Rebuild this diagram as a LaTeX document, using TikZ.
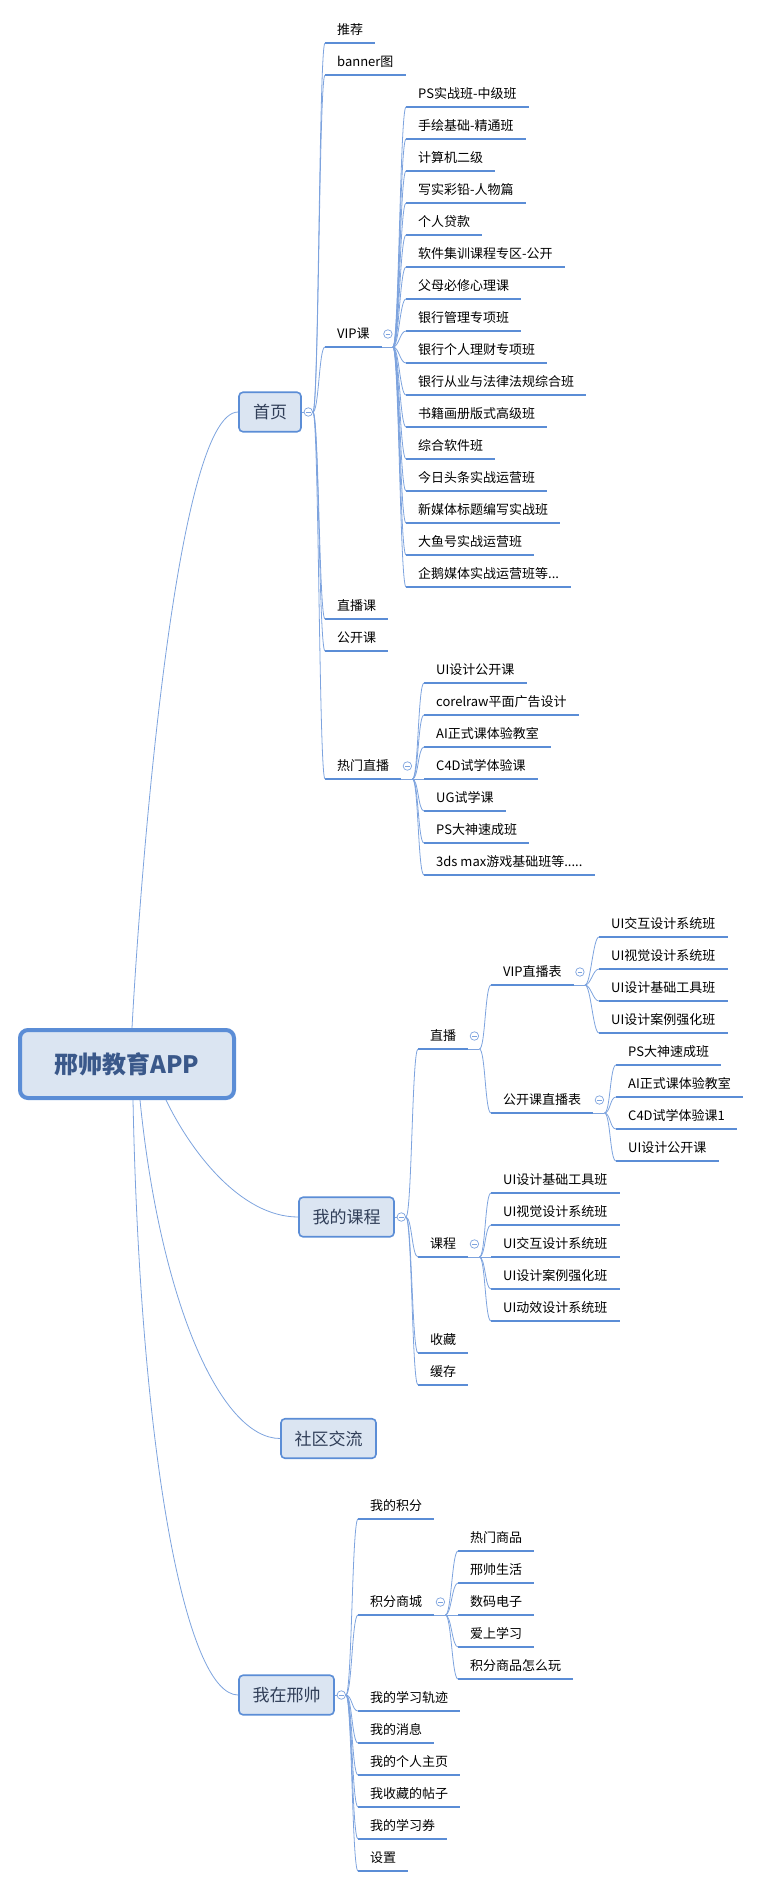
\documentclass[tikz,border=0pt]{standalone}
\usepackage{fontspec}
\setmainfont{Noto Sans CJK SC}
\usepackage{tikz}
\usetikzlibrary{positioning, calc}

\definecolor{ulblue}{RGB}{91,141,214}
\definecolor{lnblue}{RGB}{125,163,222}
\definecolor{boxfill}{RGB}{219,229,242}
\definecolor{topictxt}{RGB}{48,62,88}
\definecolor{roottxt}{RGB}{58,88,138}

\begin{document}
\begin{tikzpicture}[x=1pt, y=-1pt,
    conn/.style={draw=lnblue, line width=0.8pt},
    kid/.style={to path={.. controls +(6,0) and +(-6,0) .. (\tikztotarget)}},
    uline/.style={draw=ulblue, line width=2.5pt},
    leaf/.style={anchor=south west, inner xsep=12pt, inner ysep=6pt, text height=11pt, text depth=2pt,
        font=\fontsize{13}{15}\selectfont,
        append after command={(\tikzlastnode.south west) edge[uline] (\tikzlastnode.south east)}},
    tog/.style={circle, draw=lnblue, fill=white, line width=0.7pt, minimum size=8.5pt, inner sep=0pt,
        path picture={\draw[lnblue, line width=0.7pt] ([xshift=-2.2pt]path picture bounding box.center) -- ([xshift=2.2pt]path picture bounding box.center);}},
    topic/.style={draw=ulblue, fill=boxfill, line width=1.6pt, rounded corners=4pt, minimum height=39.5pt,
        minimum width=95pt, inner sep=0pt, text=topictxt, font=\fontsize{17}{20}\selectfont},
    rootbox/.style={draw=ulblue, fill=boxfill, line width=4pt, rounded corners=8pt, minimum width=214pt,
        minimum height=68pt, inner sep=0pt, text=roottxt, font=\fontsize{24}{28}\selectfont\bfseries}
]
\useasboundingbox (0,0) rectangle (760,1889);

% root and main topics
\node[rootbox] (app) at (127,1064) {邢帅教育APP};
\node[topic, minimum width=62pt] (sy) at (270,412) {首页};
\node[topic] (wdkc) at (346.5,1217) {我的课程};
\node[topic] (sqjl) at (328.5,1438.5) {社区交流};
\node[topic] (wzxs) at (286.5,1695) {我在邢帅};

\draw[conn] ([xshift=5pt]app.north) .. controls (140,880) and (175,412) .. (sy.west);
\draw[conn] ([xshift=39pt]app.south) .. controls (190,1150) and (240,1217) .. (wdkc.west);
\draw[conn] ([xshift=13pt]app.south) .. controls (160,1300) and (220,1438.5) .. (sqjl.west);
\draw[conn] ([xshift=6pt]app.south) .. controls (140,1450) and (185,1695) .. (wzxs.west);

% 首页
\node[tog] (syt) at ([xshift=6.5pt]sy.east) {};
\draw[conn] (sy.east) -- (syt.west);
\node[leaf] (tj) at (325,43) {推荐};
\node[leaf] (bn) at (325,75) {banner图};
\node[leaf] (vipk) at (325,347) {VIP课};
\node[leaf] (zbk) at (325,619) {直播课};
\node[leaf] (gkk) at (325,651) {公开课};
\node[leaf] (rmzb) at (325,779) {热门直播};
\draw[conn] (syt.east) edge[kid] (tj.south west) edge[kid] (bn.south west) edge[kid] (vipk.south west)
    edge[kid] (zbk.south west) edge[kid] (gkk.south west) edge[kid] (rmzb.south west);

\node[tog] (vipkt) at ([shift={(6pt,13pt)}]vipk.south east) {};
\coordinate (vipkb) at ([xshift=11pt]vipk.south east);
\draw[conn] (vipk.south east) -- (vipkb);
\node[leaf] (v1) at (406,107) {PS实战班-中级班};
\node[leaf] (v2) at (406,139) {手绘基础-精通班};
\node[leaf] (v3) at (406,171) {计算机二级};
\node[leaf] (v4) at (406,203) {写实彩铅-人物篇};
\node[leaf] (v5) at (406,235) {个人贷款};
\node[leaf] (v6) at (406,267) {软件集训课程专区-公开};
\node[leaf] (v7) at (406,299) {父母必修心理课};
\node[leaf] (v8) at (406,331) {银行管理专项班};
\node[leaf] (v9) at (406,363) {银行个人理财专项班};
\node[leaf] (v10) at (406,395) {银行从业与法律法规综合班};
\node[leaf] (v11) at (406,427) {书籍画册版式高级班};
\node[leaf] (v12) at (406,459) {综合软件班};
\node[leaf] (v13) at (406,491) {今日头条实战运营班};
\node[leaf] (v14) at (406,523) {新媒体标题编写实战班};
\node[leaf] (v15) at (406,555) {大鱼号实战运营班};
\node[leaf] (v16) at (406,587) {企鹅媒体实战运营班等...};
\draw[conn] (vipkb) edge[kid] (v1.south west) edge[kid] (v2.south west) edge[kid] (v3.south west)
    edge[kid] (v4.south west) edge[kid] (v5.south west) edge[kid] (v6.south west)
    edge[kid] (v7.south west) edge[kid] (v8.south west) edge[kid] (v9.south west)
    edge[kid] (v10.south west) edge[kid] (v11.south west) edge[kid] (v12.south west)
    edge[kid] (v13.south west) edge[kid] (v14.south west) edge[kid] (v15.south west)
    edge[kid] (v16.south west);

\node[tog] (rmzbt) at ([shift={(6pt,13pt)}]rmzb.south east) {};
\coordinate (rmzbb) at ([xshift=11pt]rmzb.south east);
\draw[conn] (rmzb.south east) -- (rmzbb);
\node[leaf] (r1) at (424,683) {UI设计公开课};
\node[leaf] (r2) at (424,715) {corelraw平面广告设计};
\node[leaf] (r3) at (424,747) {AI正式课体验教室};
\node[leaf] (r4) at (424,779) {C4D试学体验课};
\node[leaf] (r5) at (424,811) {UG试学课};
\node[leaf] (r6) at (424,843) {PS大神速成班};
\node[leaf] (r7) at (424,875) {3ds max游戏基础班等.....};
\draw[conn] (rmzbb) edge[kid] (r1.south west) edge[kid] (r2.south west) edge[kid] (r3.south west)
    edge[kid] (r4.south west) edge[kid] (r5.south west) edge[kid] (r6.south west)
    edge[kid] (r7.south west);

% 我的课程
\node[tog] (wdkct) at ([xshift=6.5pt]wdkc.east) {};
\draw[conn] (wdkc.east) -- (wdkct.west);
\node[leaf] (zb) at (418,1049) {直播};
\node[leaf] (kc) at (418,1257) {课程};
\node[leaf] (sc) at (418,1353) {收藏};
\node[leaf] (hc) at (418,1385) {缓存};
\draw[conn] (wdkct.east) edge[kid] (zb.south west) edge[kid] (kc.south west)
    edge[kid] (sc.south west) edge[kid] (hc.south west);

\node[tog] (zbt) at ([shift={(6pt,13pt)}]zb.south east) {};
\coordinate (zbb) at ([xshift=11pt]zb.south east);
\draw[conn] (zb.south east) -- (zbb);
\node[leaf] (vzb) at (491,985) {VIP直播表};
\node[leaf] (gzb) at (491,1113) {公开课直播表};
\draw[conn] (zbb) edge[kid] (vzb.south west) edge[kid] (gzb.south west);

\node[tog] (vzbt) at ([shift={(6pt,13pt)}]vzb.south east) {};
\coordinate (vzbb) at ([xshift=11pt]vzb.south east);
\draw[conn] (vzb.south east) -- (vzbb);
\node[leaf] (a1) at (599,937) {UI交互设计系统班};
\node[leaf] (a2) at (599,969) {UI视觉设计系统班};
\node[leaf] (a3) at (599,1001) {UI设计基础工具班};
\node[leaf] (a4) at (599,1033) {UI设计案例强化班};
\draw[conn] (vzbb) edge[kid] (a1.south west) edge[kid] (a2.south west)
    edge[kid] (a3.south west) edge[kid] (a4.south west);

\node[tog] (gzbt) at ([shift={(6pt,13pt)}]gzb.south east) {};
\coordinate (gzbb) at ([xshift=11pt]gzb.south east);
\draw[conn] (gzb.south east) -- (gzbb);
\node[leaf] (b1) at (616,1065) {PS大神速成班};
\node[leaf] (b2) at (616,1097) {AI正式课体验教室};
\node[leaf] (b3) at (616,1129) {C4D试学体验课1};
\node[leaf] (b4) at (616,1161) {UI设计公开课};
\draw[conn] (gzbb) edge[kid] (b1.south west) edge[kid] (b2.south west)
    edge[kid] (b3.south west) edge[kid] (b4.south west);

\node[tog] (kct) at ([shift={(6pt,13pt)}]kc.south east) {};
\coordinate (kcb) at ([xshift=11pt]kc.south east);
\draw[conn] (kc.south east) -- (kcb);
\node[leaf] (c1) at (491,1193) {UI设计基础工具班};
\node[leaf] (c2) at (491,1225) {UI视觉设计系统班};
\node[leaf] (c3) at (491,1257) {UI交互设计系统班};
\node[leaf] (c4) at (491,1289) {UI设计案例强化班};
\node[leaf] (c5) at (491,1321) {UI动效设计系统班};
\draw[conn] (kcb) edge[kid] (c1.south west) edge[kid] (c2.south west) edge[kid] (c3.south west)
    edge[kid] (c4.south west) edge[kid] (c5.south west);

% 我在邢帅
\node[tog] (wzxst) at ([xshift=6.5pt]wzxs.east) {};
\draw[conn] (wzxs.east) -- (wzxst.west);
\node[leaf] (jf) at (358,1519) {我的积分};
\node[leaf] (jfsc) at (358,1615) {积分商城};
\node[leaf] (gj) at (358,1711) {我的学习轨迹};
\node[leaf] (xx) at (358,1743) {我的消息};
\node[leaf] (zy) at (358,1775) {我的个人主页};
\node[leaf] (tz) at (358,1807) {我收藏的帖子};
\node[leaf] (xxq) at (358,1839) {我的学习券};
\node[leaf] (sz) at (358,1871) {设置};
\draw[conn] (wzxst.east) edge[kid] (jf.south west) edge[kid] (jfsc.south west) edge[kid] (gj.south west)
    edge[kid] (xx.south west) edge[kid] (zy.south west) edge[kid] (tz.south west)
    edge[kid] (xxq.south west) edge[kid] (sz.south west);

\node[tog] (jfsct) at ([shift={(6pt,13pt)}]jfsc.south east) {};
\coordinate (jfscb) at ([xshift=11pt]jfsc.south east);
\draw[conn] (jfsc.south east) -- (jfscb);
\node[leaf] (d1) at (458,1551) {热门商品};
\node[leaf] (d2) at (458,1583) {邢帅生活};
\node[leaf] (d3) at (458,1615) {数码电子};
\node[leaf] (d4) at (458,1647) {爱上学习};
\node[leaf] (d5) at (458,1679) {积分商品怎么玩};
\draw[conn] (jfscb) edge[kid] (d1.south west) edge[kid] (d2.south west) edge[kid] (d3.south west)
    edge[kid] (d4.south west) edge[kid] (d5.south west);

\end{tikzpicture}
\end{document}
